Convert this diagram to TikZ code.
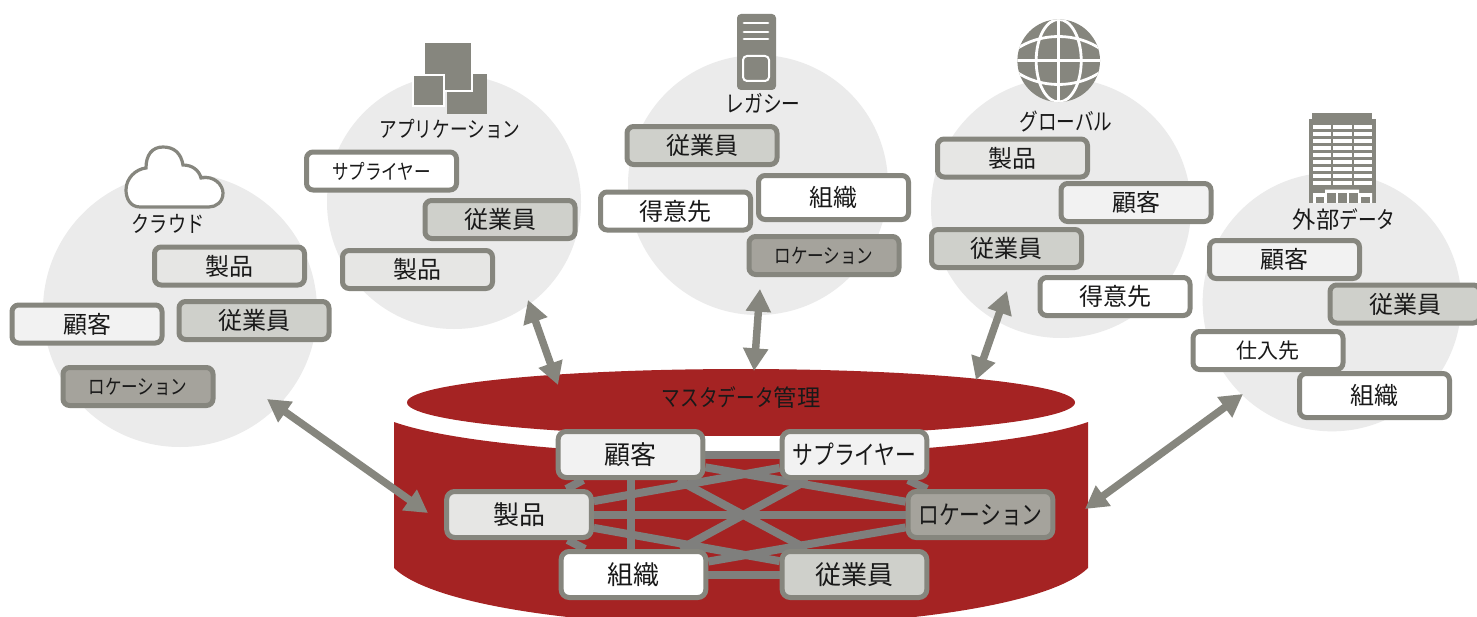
\documentclass[tikz,border=0pt]{standalone}
\usepackage{fontspec}
\usetikzlibrary{arrows.meta}
\newfontfamily\jpk[FakeStretch=0.8]{Noto Sans CJK JP}
\newfontfamily\jpn{Noto Sans CJK JP}
\definecolor{edgegray}{HTML}{86867E}
\definecolor{linkgray}{HTML}{7F7F7D}
\definecolor{circlegray}{HTML}{EBEBEB}
\definecolor{dbred}{HTML}{A52323}
\definecolor{fcust}{HTML}{F2F2F2}
\definecolor{fprod}{HTML}{E6E6E4}
\definecolor{femp}{HTML}{CFD0CB}
\definecolor{floc}{HTML}{A5A39C}
\pgfdeclarelayer{back}
\pgfdeclarelayer{links}
\pgfsetlayers{back,links,main}
\tikzset{
  x=0.75pt,y=-0.75pt,
  smallbox/.style={draw=edgegray,line width=3.75pt,rounded corners=5pt,inner sep=0pt,
    minimum width=112.5pt,minimum height=28.5pt,text=black!90},
  bigbox/.style={draw=edgegray,line width=3.75pt,rounded corners=6pt,inner sep=0pt,
    minimum width=108.5pt,minimum height=34.5pt,text=black!90},
  kanji/.style={font=\jpn\fontsize{18}{20}\selectfont},
  kanjibig/.style={font=\jpn\fontsize{19.5}{21}\selectfont},
  kanjismall/.style={font=\jpn\fontsize{15.75}{18}\selectfont},
  kanabig/.style={font=\jpk\fontsize{19.5}{21}\selectfont},
  kanas/.style={font=\jpk\fontsize{15.5}{17}\selectfont},
  title/.style={font=\jpk\fontsize{17.5}{19}\selectfont,inner sep=0pt,text=black!90},
  blob/.style={fill=circlegray,draw=none},
  link/.style={draw=linkgray,line width=6pt},
  biarrow/.style={draw=edgegray,line width=5.6pt,
    {Triangle[length=17pt,width=18pt]}-{Triangle[length=17pt,width=18pt]}},
  icon/.style={fill=edgegray,draw=none},
  iconline/.style={white,line width=2.1pt},
}
\begin{document}
\begin{tikzpicture}
\useasboundingbox (0,0) rectangle (1477,617);
\begin{pgfonlayer}{back}
  \fill[white] (0,0) rectangle (1477,617);
  \fill[blob] (180,310) circle[radius=102.75pt];
  \fill[blob] (454,202) circle[radius=95.25pt];
  \fill[blob] (758,185) circle[radius=97.5pt];
  \fill[blob] (1061,208) circle[radius=97.5pt];
  \fill[blob] (1332,302) circle[radius=97pt];
  \begin{scope}
    \clip (0,0) rectangle (1477,617);
    \fill[dbred] (394,422) .. controls (450,442) and (590,455) .. (741,455)
      .. controls (892,455) and (1032,442) .. (1088,422)
      -- (1088,568) .. controls (1050,605) and (900,626) .. (741,626)
      .. controls (582,626) and (432,605) .. (394,568) -- cycle;
    \fill[dbred] (741,402.5) ellipse[x radius=250.5pt,y radius=25.1pt];
  \end{scope}
\end{pgfonlayer}

% icons
\draw[draw=edgegray,line width=2.4pt,fill=white]
  (140,207) .. controls (130,207) and (126,198) .. (126,190)
  .. controls (126,178) and (136,169) .. (146,168)
  .. controls (146,155) and (152,147) .. (163,147)
  .. controls (174,147) and (181,153) .. (183,165)
  .. controls (192,165) and (199,170) .. (201,178)
  .. controls (214,175) and (223,185) .. (223,193)
  .. controls (223,202) and (216,207) .. (209,207) -- cycle;
\fill[icon] (447,74) rectangle (487,114);
\filldraw[fill=edgegray,draw=white,line width=1.3pt] (424,42) rectangle (472,91);
\filldraw[fill=edgegray,draw=white,line width=1.3pt] (413,75) rectangle (444,106);
\fill[icon,rounded corners=3pt] (737,14) rectangle (776,90);
\foreach \yy in {23,32,39}{\draw[iconline,line cap=round] (744,\yy) -- (768,\yy);}
\draw[white,line width=1.5pt,rounded corners=3pt] (743,56) rectangle (769,81);
\begin{scope}
  \fill[icon] (1058.7,60.7) circle[radius=31pt];
  \clip (1058.7,60.7) circle[radius=31pt];
  \draw[iconline] (1058.7,15) -- (1058.7,107);
  \draw[iconline] (1015,60.7) -- (1102,60.7);
  \draw[iconline] (1058.7,60.7) ellipse[x radius=16.9pt,y radius=31pt];
  \draw[iconline] (1015,50) .. controls (1040,32) and (1077,32) .. (1102,50);
  \draw[iconline] (1015,71) .. controls (1040,89) and (1077,89) .. (1102,71);
\end{scope}
\fill[icon] (1312,113) rectangle (1372,119);
\fill[icon] (1309,119) rectangle (1376,203);
\foreach \yy in {127,134,141,148,155,162,169,176,183}{
  \foreach \xa/\xb in {1313/1331,1333/1352,1354/1372}{
    \fill[white] (\xa,\yy-1.6) rectangle (\xb,\yy+1.6);}}
\fill[white] (1313,203) -- (1313,193) -- (1325,193) -- (1325,189.5) -- (1359,189.5) -- (1359,193) -- (1372,193) -- (1372,203) -- cycle;
\fill[icon] (1316,196.5) rectangle (1324,203);
\fill[icon] (1327,192.5) rectangle (1336,203);
\fill[icon] (1338,192.5) rectangle (1347,203);
\fill[icon] (1349,192.5) rectangle (1358,203);
\fill[icon] (1361,196.5) rectangle (1370,203);

% titles
\node[title,font=\jpk\fontsize{17}{19}\selectfont] (tcloud) at (168,224) {クラウド};
\node[title,font=\jpk\fontsize{16.5}{18}\selectfont] (tapp) at (450,129) {アプリケーション};
\node[title] (tleg) at (763,103) {レガシー};
\node[title] (tglob) at (1066,122) {グローバル};
\node[title] (text) at (1344,220) {{\jpn 外部}データ};
\node[title] (tmdm) at (741,398) {マスタデータ{\jpn 管理}};

% cloud boxes
\node[smallbox,kanji,fill=fprod] (c1) at (229.5,266) {製品};
\node[smallbox,kanji,fill=fcust] (c2) at (87,324) {顧客};
\node[smallbox,kanji,fill=femp] (c3) at (254,320.5) {従業員};
\node[smallbox,kanas,fill=floc] (c4) at (138,386.5) {ロケーション};
% application boxes
\node[smallbox,kanas,fill=white] (a1) at (381.5,171) {サプライヤー};
\node[smallbox,kanji,fill=femp] (a2) at (500,219.5) {従業員};
\node[smallbox,kanji,fill=fprod] (a3) at (417.5,269.5) {製品};
% legacy boxes
\node[smallbox,kanji,fill=femp] (l1) at (702,145.5) {従業員};
\node[smallbox,kanji,fill=white,minimum height=33pt] (l2) at (833.5,197.5) {組織};
\node[smallbox,kanji,fill=white] (l3) at (675.5,211) {得意先};
\node[smallbox,kanas,fill=floc] (l4) at (824,255.5) {ロケーション};
% global boxes
\node[smallbox,kanji,fill=fprod] (g1) at (1012.5,158) {製品};
\node[smallbox,kanji,fill=fcust] (g2) at (1136,202.5) {顧客};
\node[smallbox,kanji,fill=femp] (g3) at (1006.5,248.5) {従業員};
\node[smallbox,kanji,fill=white] (g4) at (1115,296.5) {得意先};
% external boxes
\node[smallbox,kanji,fill=fcust] (e1) at (1284.5,259.5) {顧客};
\node[smallbox,kanji,fill=femp] (e2) at (1405,304) {従業員};
\node[smallbox,kanjismall,fill=white] (e3) at (1268,350.5) {仕入先};
\node[smallbox,kanji,fill=white,minimum height=33pt] (e4) at (1374.5,395.5) {組織};

% central boxes
\node[bigbox,kanjibig,fill=fcust] (mcust) at (630.5,454.5) {顧客};
\node[bigbox,kanabig,fill=fcust] (msup) at (854.5,454.5) {サプライヤー};
\node[bigbox,kanjibig,fill=fprod] (mprod) at (519,514.5) {製品};
\node[bigbox,kanabig,fill=floc] (mloc) at (980.5,514.5) {ロケーション};
\node[bigbox,kanjibig,fill=white] (morg) at (633.5,574.5) {組織};
\node[bigbox,kanjibig,fill=femp] (memp) at (854.5,574.5) {従業員};

\begin{pgfonlayer}{links}
  \foreach \aa/\bb in {mcust/msup,mcust/mloc,mcust/memp,mcust/mprod,
    msup/mprod,msup/morg,msup/mloc,mprod/mloc,mprod/memp,mprod/morg,morg/mloc,morg/memp}{
    \draw[link] (\aa) -- (\bb);}
  \draw[link] (mcust.south) -- (mcust.south |- morg.north);
\end{pgfonlayer}

% arrows
\coordinate (acl) at (267,399);
\coordinate (acr) at (428,513);
\coordinate (aal) at (528,300);
\coordinate (aar) at (558,385);
\coordinate (all) at (760,289);
\coordinate (alr) at (754,371);
\coordinate (agl) at (1007,291);
\coordinate (agr) at (976,380);
\coordinate (ael) at (1243,394);
\coordinate (aer) at (1085,509);
\draw[biarrow] (acl) -- (acr);
\draw[biarrow] (aal) -- (aar);
\draw[biarrow] (all) -- (alr);
\draw[biarrow] (agl) -- (agr);
\draw[biarrow] (ael) -- (aer);
\end{tikzpicture}
\end{document}
